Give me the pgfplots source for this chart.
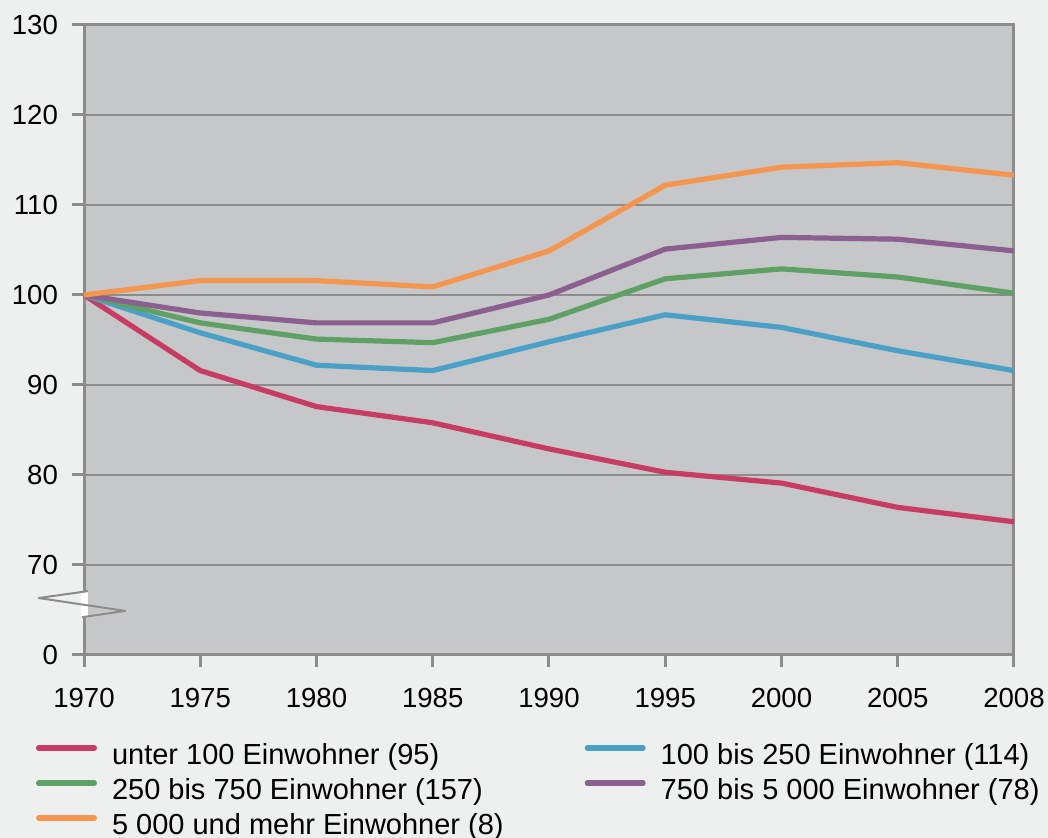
\documentclass[border=0pt]{standalone}
\usepackage{pgfplots}
\pgfplotsset{compat=1.18}
\usepackage{fontspec}
\setmainfont{Liberation Sans}
\definecolor{cred}{HTML}{C83C64}
\definecolor{cblue}{HTML}{4BA0C8}
\definecolor{cgreen}{HTML}{5FA064}
\definecolor{cpurple}{HTML}{8C5F91}
\definecolor{corange}{HTML}{F59650}
\definecolor{plotbg}{HTML}{C6C7C9}
\definecolor{outerbg}{HTML}{EEF0EF}
\definecolor{axgray}{HTML}{8C8C8C}
\begin{document}
\begin{tikzpicture}
\fill[outerbg] (-42pt,-91.5pt) rectangle (482pt,327.5pt);
\useasboundingbox (-42pt,-91.5pt) rectangle (482pt,327.5pt);
\begin{axis}[
  at={(0,0)}, anchor=south west,
  scale only axis, width=465pt, height=315pt,
  xmin=0, xmax=8, ymin=60, ymax=130,
  xtick={0,...,8},
  xticklabels={1970,1975,1980,1985,1990,1995,2000,2005,2008},
  ytick={60,70,80,90,100,110,120,130},
  yticklabels={0,70,80,90,100,110,120,130},
  tick pos=left, tick align=outside,
  major tick length=6pt,
  tick style={axgray, line width=1.5pt},
  axis line style={axgray, line width=1.5pt},
  ymajorgrids, major grid style={axgray, line width=1pt},
  axis background/.style={fill=plotbg},
  ticklabel style={font=\fontsize{13.8pt}{16pt}\selectfont},
  xticklabel style={yshift=-7pt},
  yticklabel style={xshift=-3.5pt},
  clip=false,
  legend columns=2,
  legend cell align=left,
  legend style={at={(rel axis cs:-0.0516,-0.1413)}, anchor=north west,
    draw=none, fill=none, inner sep=0pt, outer sep=0pt,
    font=\fontsize{14.5pt}{16pt}\selectfont,
    row sep=4.5pt,
    nodes={inner sep=0pt, text height=10pt, text depth=3pt},
    /tikz/column 2/.style={column sep=40.5pt},
    /tikz/column 1/.style={column sep=7.5pt},
    /tikz/column 3/.style={column sep=7.5pt}},
  legend image code/.code={\draw[#1, line width=2.6pt, line cap=round] (1.3pt,4.5pt) -- (29.2pt,4.5pt);},
  every axis plot/.append style={line width=2.6pt, line join=round},
]
\addplot[cred] coordinates {(0,100) (1,91.6) (2,87.6) (3,85.8) (4,82.9) (5,80.3) (6,79.1) (7,76.4) (8,74.8)};
\addlegendentry{unter 100 Einwohner (95)}
\addplot[cblue] coordinates {(0,100) (1,95.8) (2,92.2) (3,91.6) (4,94.8) (5,97.8) (6,96.4) (7,93.8) (8,91.6)};
\addlegendentry{100 bis 250 Einwohner (114)}
\addplot[cgreen] coordinates {(0,100) (1,96.9) (2,95.1) (3,94.7) (4,97.3) (5,101.8) (6,102.9) (7,102.0) (8,100.2)};
\addlegendentry{250 bis 750 Einwohner (157)}
\addplot[cpurple] coordinates {(0,100) (1,98.0) (2,96.9) (3,96.9) (4,100) (5,105.1) (6,106.4) (7,106.2) (8,104.9)};
\addlegendentry{750 bis 5 000 Einwohner (78)}
\addplot[corange] coordinates {(0,100) (1,101.6) (2,101.6) (3,100.9) (4,104.9) (5,112.2) (6,114.2) (7,114.7) (8,113.3)};
\addlegendentry{5 000 und mehr Einwohner (8)}
% axis break symbol
\fill[white] (axis cs:-0.03,67.1) rectangle (axis cs:0.035,64.2);
\draw[axgray, line width=1pt, line join=round]
  (axis cs:0.0344,67.1) -- (axis cs:-0.39,66.33) -- (axis cs:0.355,64.9) -- (axis cs:-0.0172,64.2);
\end{axis}
\end{tikzpicture}
\end{document}
